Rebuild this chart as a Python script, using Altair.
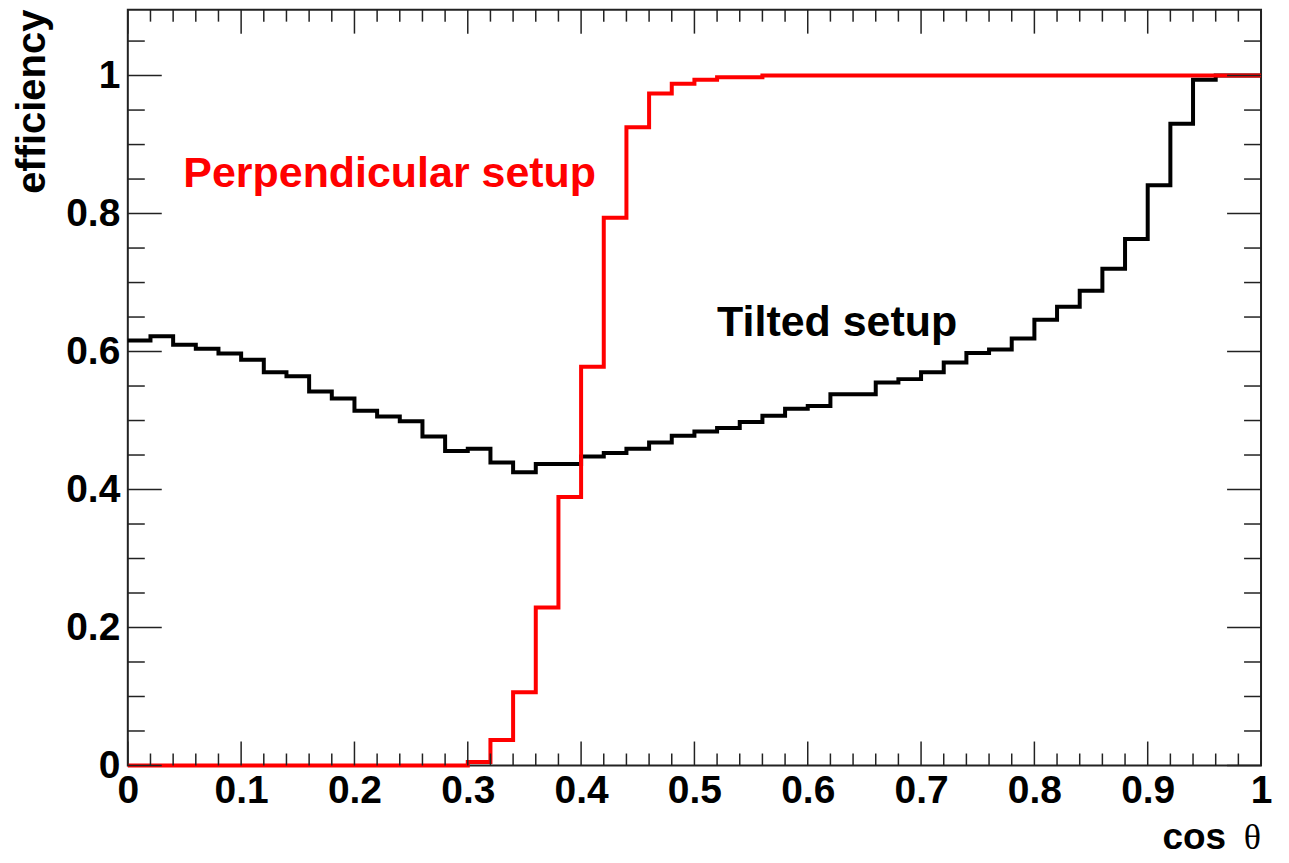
import altair as alt
import pandas as pd

# ---- data ----
n_bins = 50
bin_lo = [round(i * 0.02, 2) for i in range(n_bins)]

tilted = [0.616, 0.622, 0.610, 0.604, 0.597, 0.588, 0.570, 0.564, 0.542, 0.532,
          0.514, 0.506, 0.499, 0.477, 0.456, 0.459, 0.439, 0.425, 0.437, 0.437,
          0.448, 0.453, 0.459, 0.468, 0.478, 0.484, 0.489, 0.498, 0.507, 0.517,
          0.521, 0.538, 0.538, 0.555, 0.560, 0.570, 0.584, 0.598, 0.603, 0.619,
          0.646, 0.665, 0.688, 0.720, 0.763, 0.841, 0.930, 0.994, 1.000, 1.000]

perpendicular = [0.0, 0.0, 0.0, 0.0, 0.0, 0.0, 0.0, 0.0, 0.0, 0.0,
                 0.0, 0.0, 0.0, 0.0, 0.0, 0.005, 0.037, 0.106, 0.229, 0.389,
                 0.578, 0.794, 0.925, 0.974, 0.988, 0.994, 0.9975, 0.9975, 1.0, 1.0,
                 1.0, 1.0, 1.0, 1.0, 1.0, 1.0, 1.0, 1.0, 1.0, 1.0,
                 1.0, 1.0, 1.0, 1.0, 1.0, 1.0, 1.0, 1.0, 1.0, 1.0]

x_major = [0, 0.1, 0.2, 0.3, 0.4, 0.5, 0.6, 0.7, 0.8, 0.9, 1.0]
x_minor = [round(i * 0.02, 2) for i in range(1, 50) if i % 5]
y_major = [0, 0.2, 0.4, 0.6, 0.8, 1.0]
y_minor = [0.05, 0.1, 0.15, 0.25, 0.3, 0.35, 0.45, 0.5, 0.55, 0.65, 0.7, 0.75,
           0.85, 0.9, 0.95, 1.05]

labels_text = ["Perpendicular setup", "Tilted setup"]

# ---- layout ----
W, H = 1135, 757
FONT = "Liberation Sans"
TICK_COLOR = "#222222"

xscale = alt.Scale(domain=[0, 1], nice=False, zero=False)
yscale = alt.Scale(domain=[0, H / 691.0], nice=False, zero=False)


def hist_df(vals):
    return pd.DataFrame({"x": bin_lo + [1.0], "y": vals + [vals[-1]]})


xaxis = alt.Axis(values=x_major, format="~g", grid=False, domain=False, ticks=False,
                 tickSize=0, labelFont=FONT, labelFontWeight="bold", labelFontSize=39,
                 labelColor="black", labelPadding=6, labelFlush=False, title=None)
yaxis = alt.Axis(values=y_major, format="~g", grid=False, domain=False, ticks=False,
                 tickSize=0, labelFont=FONT, labelFontWeight="bold", labelFontSize=39,
                 labelColor="black", labelPadding=8, labelFlush=False, title=None)

black = alt.Chart(hist_df(tilted)).mark_line(
    interpolate="step-after", color="black", strokeWidth=4
).encode(
    x=alt.X("x:Q", scale=xscale, axis=xaxis),
    y=alt.Y("y:Q", scale=yscale, axis=yaxis),
)

red = alt.Chart(hist_df(perpendicular)).mark_line(
    interpolate="step-after", color="#ff0000", strokeWidth=4
).encode(
    x=alt.X("x:Q", scale=xscale, axis=xaxis),
    y=alt.Y("y:Q", scale=yscale, axis=yaxis),
)


def xticks(vals, length, top):
    df = pd.DataFrame({"v": vals})
    if top:
        y0, y1 = 0, length
    else:
        y0, y1 = H, H - length
    return alt.Chart(df).mark_rule(color=TICK_COLOR, strokeWidth=1.5).encode(
        x=alt.X("v:Q", scale=xscale, axis=xaxis),
        y=alt.value(y0), y2=alt.value(y1),
    )


def yticks(vals, length, right):
    df = pd.DataFrame({"v": vals})
    if right:
        x0, x1 = W, W - length
    else:
        x0, x1 = 0, length
    return alt.Chart(df).mark_rule(color=TICK_COLOR, strokeWidth=1.5).encode(
        y=alt.Y("v:Q", scale=yscale, axis=yaxis),
        x=alt.value(x0), x2=alt.value(x1),
    )


ticks = [
    xticks(x_major, 24, False), xticks(x_major, 24, True),
    xticks(x_minor, 12, False), xticks(x_minor, 12, True),
    yticks(y_major, 34, False), yticks(y_major, 34, True),
    yticks(y_minor, 17, False), yticks(y_minor, 17, True),
]

base = alt.Chart(pd.DataFrame({"a": [0]}))

perp_label = base.mark_text(
    text=labels_text[0], color="#ff0000", font=FONT, fontWeight="bold",
    fontSize=43, align="left", baseline="alphabetic"
).encode(x=alt.X(datum=0.049, scale=xscale, axis=xaxis),
         y=alt.Y(datum=0.838, scale=yscale, axis=yaxis))

tilt_label = base.mark_text(
    text=labels_text[1], color="black", font=FONT, fontWeight="bold",
    fontSize=43, align="left", baseline="alphabetic"
).encode(x=alt.X(datum=0.52, scale=xscale, axis=xaxis),
         y=alt.Y(datum=0.622, scale=yscale, axis=yaxis))

ytitle = base.mark_text(
    text="efficiency", color="black", font=FONT, fontWeight="bold",
    fontSize=40, angle=270, align="right", baseline="middle"
).encode(x=alt.value(-95), y=alt.value(0))

xtitle_cos = base.mark_text(
    text="cos", color="black", font=FONT, fontWeight="bold",
    fontSize=37, align="right", baseline="alphabetic"
).encode(x=alt.value(W - 35), y=alt.value(H + 84))

xtitle_theta = base.mark_text(
    text="θ", color="black", font="Liberation Serif", fontWeight="normal",
    fontSize=36, align="right", baseline="alphabetic"
).encode(x=alt.value(W), y=alt.value(H + 84))

chart = alt.layer(
    black, red, *ticks, perp_label, tilt_label, ytitle, xtitle_cos, xtitle_theta
).properties(
    width=W, height=H,
    autosize=alt.AutoSizeParams(type="none"),
    padding={"left": 120, "top": 1, "right": 20, "bottom": 96},
    background="white",
).configure_view(
    stroke="#222222", strokeWidth=2
)

chart.save("out.html", embed_options={"renderer": "svg", "actions": False})
